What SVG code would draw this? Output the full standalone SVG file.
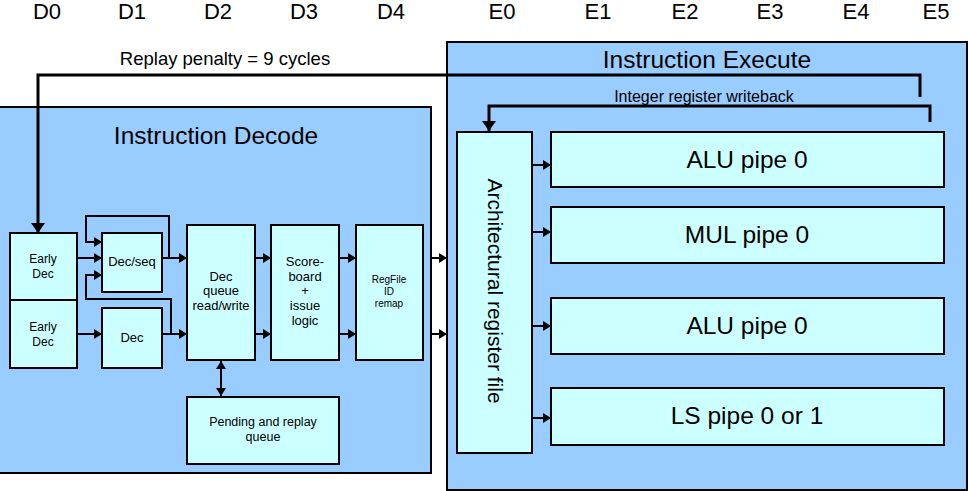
<svg xmlns="http://www.w3.org/2000/svg" width="968" height="491" viewBox="0 0 968 491">
<style>
text{font-family:"Liberation Sans",Arial,sans-serif;fill:#000;text-anchor:middle}
.cont{fill:#99CCFF;stroke:#000;stroke-width:2}
.node{fill:#CCFFFF;stroke:#000;stroke-width:2}
.ln{fill:none;stroke:#000;stroke-width:2}
.thk{fill:none;stroke:#000;stroke-width:3}
.stage{font-size:22px}
.title{font-size:24.5px}
.sm{font-size:12px}
.md{font-size:13px}
.tiny{font-size:10px}
.big{font-size:24.5px}
</style>
<defs>
<marker id="ah" markerWidth="8" markerHeight="10" refX="8" refY="5" orient="auto" markerUnits="userSpaceOnUse"><path d="M0,0 L8,5 L0,10 Z" fill="#000"/></marker>
<marker id="ahs" markerWidth="8" markerHeight="10" refX="8" refY="5" orient="auto-start-reverse" markerUnits="userSpaceOnUse"><path d="M0,0 L8,5 L0,10 Z" fill="#000"/></marker>
<marker id="ahb" markerWidth="10" markerHeight="14" refX="10" refY="7" orient="auto" markerUnits="userSpaceOnUse"><path d="M0,0 L10,7 L0,14 Z" fill="#000"/></marker>
</defs>
<rect width="968" height="491" fill="#fff"/>
<g id="stages">
<text x="47" y="19" class="stage">D0</text>
<text x="132" y="19" class="stage">D1</text>
<text x="218" y="19" class="stage">D2</text>
<text x="304" y="19" class="stage">D3</text>
<text x="391" y="19" class="stage">D4</text>
<text x="502" y="19" class="stage">E0</text>
<text x="598" y="19" class="stage">E1</text>
<text x="685" y="19" class="stage">E2</text>
<text x="770" y="19" class="stage">E3</text>
<text x="856" y="19" class="stage">E4</text>
<text x="936" y="19" class="stage">E5</text>
</g>
<g id="decode">
<rect class="cont" x="-1" y="107" width="432" height="366"/>
<text x="216" y="144" class="title">Instruction Decode</text>
</g>
<g id="execute">
<rect class="cont" x="447" y="42" width="520" height="448"/>
<text x="707" y="68" class="title">Instruction Execute</text>
</g>
<text x="225" y="65" style="font-size:18.5px">Replay penalty = 9 cycles</text>
<text x="704" y="102" style="font-size:16px">Integer register writeback</text>
<g id="earlydec1"><rect class="node" x="10" y="233" width="67" height="67"/><text x="43" y="263" class="sm">Early</text><text x="43" y="278" class="sm">Dec</text></g>
<g id="earlydec2"><rect class="node" x="10" y="300" width="67" height="68"/><text x="43" y="331" class="sm">Early</text><text x="43" y="346" class="sm">Dec</text></g>
<g id="decseq"><rect class="node" x="102" y="233" width="60" height="59"/><text x="132" y="266" class="md">Dec/seq</text></g>
<g id="dec"><rect class="node" x="102" y="308" width="60" height="60"/><text x="132" y="342" class="md">Dec</text></g>
<g id="decqueue"><rect class="node" x="187" y="225" width="68" height="135"/><text x="221" y="281" class="md">Dec</text><text x="221" y="295" class="md">queue</text><text x="221" y="310" class="md">read/write</text></g>
<g id="scoreboard"><rect class="node" x="271" y="225" width="68" height="135"/><text x="305" y="266" class="md">Score-</text><text x="305" y="281" class="md">board</text><text x="305" y="295" class="md">+</text><text x="305" y="310" class="md">issue</text><text x="305" y="325" class="md">logic</text></g>
<g id="regfile"><rect class="node" x="356" y="225" width="67" height="135"/><text x="389" y="283" class="tiny">RegFile</text><text x="389" y="295" class="tiny">ID</text><text x="389" y="307" class="tiny">remap</text></g>
<g id="pending"><rect class="node" x="187" y="397" width="152" height="67"/><text x="263" y="426" style="font-size:12.5px">Pending and replay</text><text x="263" y="441" style="font-size:12.5px">queue</text></g>
<g id="arf"><rect class="node" x="457" y="132" width="75" height="321"/><text transform="translate(495,291) rotate(90)" y="7" style="font-size:21px">Architectural register file</text></g>
<g id="alu0a"><rect class="node" x="551" y="132" width="393" height="55"/><text x="747" y="168" class="big">ALU pipe 0</text></g>
<g id="mul0"><rect class="node" x="551" y="207" width="393" height="56"/><text x="747" y="243" class="big">MUL pipe 0</text></g>
<g id="alu0b"><rect class="node" x="551" y="298" width="393" height="56"/><text x="747" y="334" class="big">ALU pipe 0</text></g>
<g id="ls"><rect class="node" x="551" y="388" width="393" height="57"/><text x="747" y="424" class="big">LS pipe 0 or 1</text></g>
<g id="connectors">
<polyline class="thk" points="920,97 920,75 38,75 38,233" marker-end="url(#ahb)"/>
<polyline class="thk" points="930,122 930,106 489,106 489,131" marker-end="url(#ahb)"/>
<line class="ln" x1="77" y1="258" x2="102" y2="258" marker-end="url(#ah)"/>
<line class="ln" x1="77" y1="334" x2="102" y2="334" marker-end="url(#ah)"/>
<line class="ln" x1="162" y1="258" x2="187" y2="258" marker-end="url(#ah)"/>
<line class="ln" x1="162" y1="334" x2="187" y2="334" marker-end="url(#ah)"/>
<polyline class="ln" points="169,258 169,216 86,216 86,242 102,242" marker-end="url(#ah)"/>
<polyline class="ln" points="171,334 171,299 86,299 86,275 102,275" marker-end="url(#ah)"/>
<line class="ln" x1="255" y1="258" x2="271" y2="258" marker-end="url(#ah)"/>
<line class="ln" x1="255" y1="334" x2="271" y2="334" marker-end="url(#ah)"/>
<line class="ln" x1="339" y1="258" x2="356" y2="258" marker-end="url(#ah)"/>
<line class="ln" x1="339" y1="334" x2="356" y2="334" marker-end="url(#ah)"/>
<line class="ln" x1="221" y1="361" x2="221" y2="396" marker-start="url(#ahs)" marker-end="url(#ah)"/>
<line class="ln" x1="431" y1="258" x2="447" y2="258" marker-end="url(#ah)"/>
<line class="ln" x1="431" y1="334" x2="447" y2="334" marker-end="url(#ah)"/>
<line class="ln" x1="532" y1="165" x2="551" y2="165" marker-end="url(#ah)"/>
<line class="ln" x1="532" y1="232" x2="551" y2="232" marker-end="url(#ah)"/>
<line class="ln" x1="532" y1="326" x2="551" y2="326" marker-end="url(#ah)"/>
<line class="ln" x1="532" y1="418" x2="551" y2="418" marker-end="url(#ah)"/>
</g>
</svg>
